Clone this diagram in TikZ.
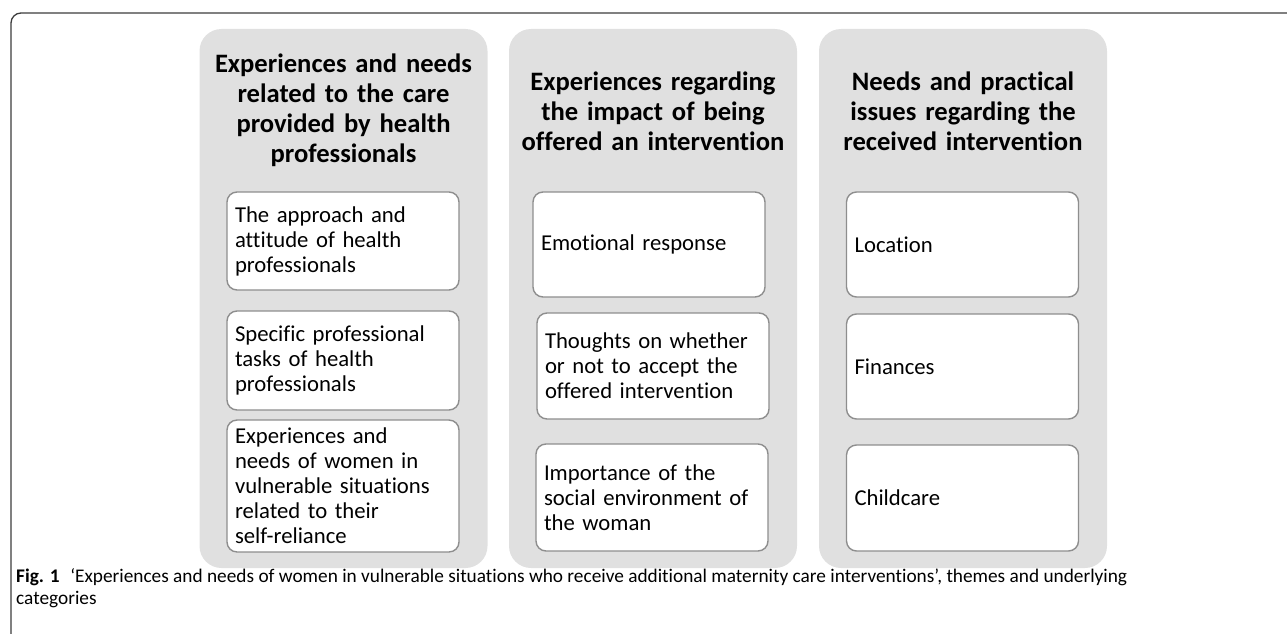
\documentclass[tikz,border=0pt]{standalone}
\usepackage{fontspec}
\setmainfont{Carlito}[Ligatures=NoCommon]

\definecolor{themegray}{HTML}{E0E0E0}
\definecolor{boxline}{HTML}{8E8E8E}
\definecolor{framecol}{HTML}{3C3C3C}

\tikzset{
  theme/.style={fill=themegray, rounded corners=22pt, minimum width=288pt,
    minimum height=539pt, inner sep=0pt},
  head/.style={font=\fontsize{26.6}{30}\selectfont\bfseries, align=center,
    text width=286pt, inner sep=0pt},
  cat/.style={draw=boxline, line width=1.4pt, fill=white, rounded corners=10pt,
    minimum height=#1, text width=216pt, inner sep=8pt, align=left,
    font=\fontsize{22.7}{25}\selectfont},
  cat/.default=105pt,
  capt/.style={font=\fontsize{19.3}{22}\selectfont, align=left, inner sep=0pt,
    anchor=north west},
}

\begin{document}
\begin{tikzpicture}[x=1pt,y=-1pt]
\useasboundingbox (0,0) rectangle (1287,634);

% frame
\draw[framecol, line width=1.3pt, rounded corners=10pt] (11,634) -- (11,13) -- (1287,13);

% themes
\node[theme] (themeA) at (343.5,298.5) {};
\node[theme] (themeB) at (653,298.5) {};
\node[theme] (themeC) at (963,298.5) {};

\node[head] (headA) at (343.5,110) {Experiences and needs\\related to the care\\provided by health\\professionals};
\node[head] (headB) at (653,111.5) {Experiences regarding\\the impact of being\\offered an intervention};
\node[head] (headC) at (963,111.5) {Needs and practical\\issues regarding the\\received intervention};

% categories, theme A
\node[cat=98pt] (approach) at (343,241) {The approach and\\attitude of health\\professionals};
\node[cat=99pt] (tasks) at (343,360.5) {Specific professional\\tasks of health\\professionals};
\node[cat=124pt] (selfrel) at (343,486) {Experiences and\\needs of women in\\vulnerable situations\\related to their\\self-reliance};

% categories, theme B
\node[cat] (emotion) at (649,244.5) {Emotional response};
\node[cat=106pt] (thoughts) at (653,366) {Thoughts on whether\\or not to accept the\\offered intervention};
\node[cat=107pt] (social) at (652,497.5) {Importance of the\\social environment of\\the woman};

% categories, theme C
\node[cat] (location) at (962.5,244.5) {Location};
\node[cat] (finances) at (962.5,366.5) {Finances};
\node[cat=106pt] (childcare) at (962.5,498) {Childcare};

% caption
\node[capt] (caption) at (16,568.5) {\textbf{Fig. 1}\hspace{0.55em}‘Experiences and needs of women in vulnerable situations who receive additional maternity care interventions’, themes and underlying\\categories};

\end{tikzpicture}
\end{document}
